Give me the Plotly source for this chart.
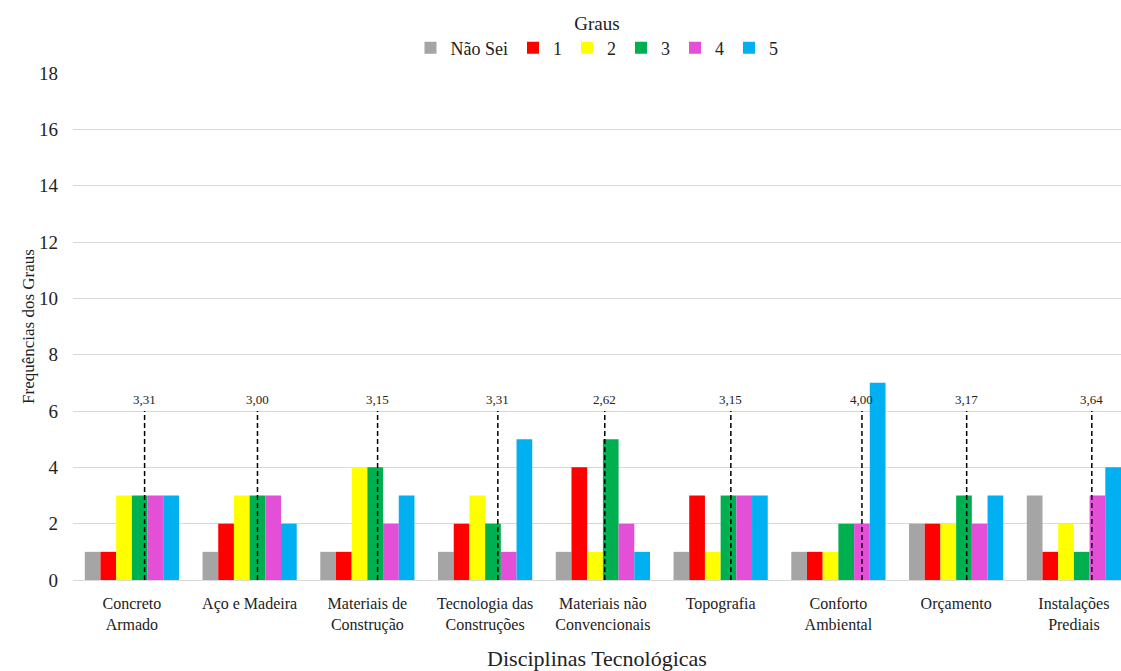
import plotly.graph_objects as go

categories = ["Concreto<br>Armado", "Aço e Madeira", "Materiais de<br>Construção",
              "Tecnologia das<br>Construções", "Materiais não<br>Convencionais", "Topografia",
              "Conforto<br>Ambiental", "Orçamento", "Instalações<br>Prediais"]
series_names = ["Não Sei", "1", "2", "3", "4", "5"]
nao_sei = [1, 1, 1, 1, 1, 1, 1, 2, 3]
g1 = [1, 2, 1, 2, 4, 3, 1, 2, 1]
g2 = [3, 3, 4, 3, 1, 1, 1, 2, 2]
g3 = [3, 3, 4, 2, 5, 3, 2, 3, 1]
g4 = [3, 3, 2, 1, 2, 3, 2, 2, 3]
g5 = [3, 2, 3, 5, 1, 3, 7, 3, 4]
means = [3.31, 3.00, 3.15, 3.31, 2.62, 3.15, 4.00, 3.17, 3.64]
mean_line_top = 6
colors = ["#A5A5A5", "#FF0000", "#FFFF00", "#00B050", "#E44FD8", "#00B0F0"]

font_fam = "Liberation Serif, Times New Roman, serif"
xs = list(range(len(categories)))
fig = go.Figure()
for name, vals, col in zip(series_names, [nao_sei, g1, g2, g3, g4, g5], colors):
    fig.add_trace(go.Bar(x=xs, y=vals, name=name, marker_color=col, marker_line_width=0))

group_w = 0.8
bar_w = group_w / len(series_names)
for i, m in enumerate(means):
    xl = i + (m - 2.5) * bar_w
    fig.add_trace(go.Scatter(x=[xl, xl], y=[0, mean_line_top], mode="lines",
                             line=dict(color="black", width=1.5, dash="5px,3px"),
                             showlegend=False, hoverinfo="skip"))
    fig.add_annotation(x=xl, y=mean_line_top, text=f"{m:.2f}".replace(".", ","),
                       showarrow=False, yanchor="bottom", yshift=2,
                       font=dict(family=font_fam, size=13, color="#222"))

fig.update_layout(
    width=1121, height=671,
    margin=dict(l=73, r=0, t=73, b=91),
    barmode="group", bargap=0.2, bargroupgap=0,
    plot_bgcolor="white", paper_bgcolor="white",
    font=dict(family=font_fam, color="#222"),
    legend=dict(orientation="h", x=0.5, xanchor="center", y=1.012, yanchor="bottom",
                title=dict(text="Graus", side="top center", font=dict(size=19)),
                font=dict(size=18), itemwidth=30, traceorder="normal"),
    xaxis=dict(tickmode="array", tickvals=xs, ticktext=categories, range=[-0.5, 8.4],
               showgrid=False, zeroline=False, showline=True, linecolor="#D9D9D9",
               ticks="", tickfont=dict(size=16), ticklabelstandoff=9,
               title=dict(text="Disciplinas Tecnológicas", font=dict(size=22), standoff=18)),
    yaxis=dict(range=[0, 18], dtick=2, showgrid=True, gridcolor="#D9D9D9", zeroline=False,
               showline=False, tickfont=dict(size=19), ticks="",
               ticklabelstandoff=14,
               title=dict(text="Frequências dos Graus", font=dict(size=17), standoff=0)),
)
fig.write_html("out.html")
